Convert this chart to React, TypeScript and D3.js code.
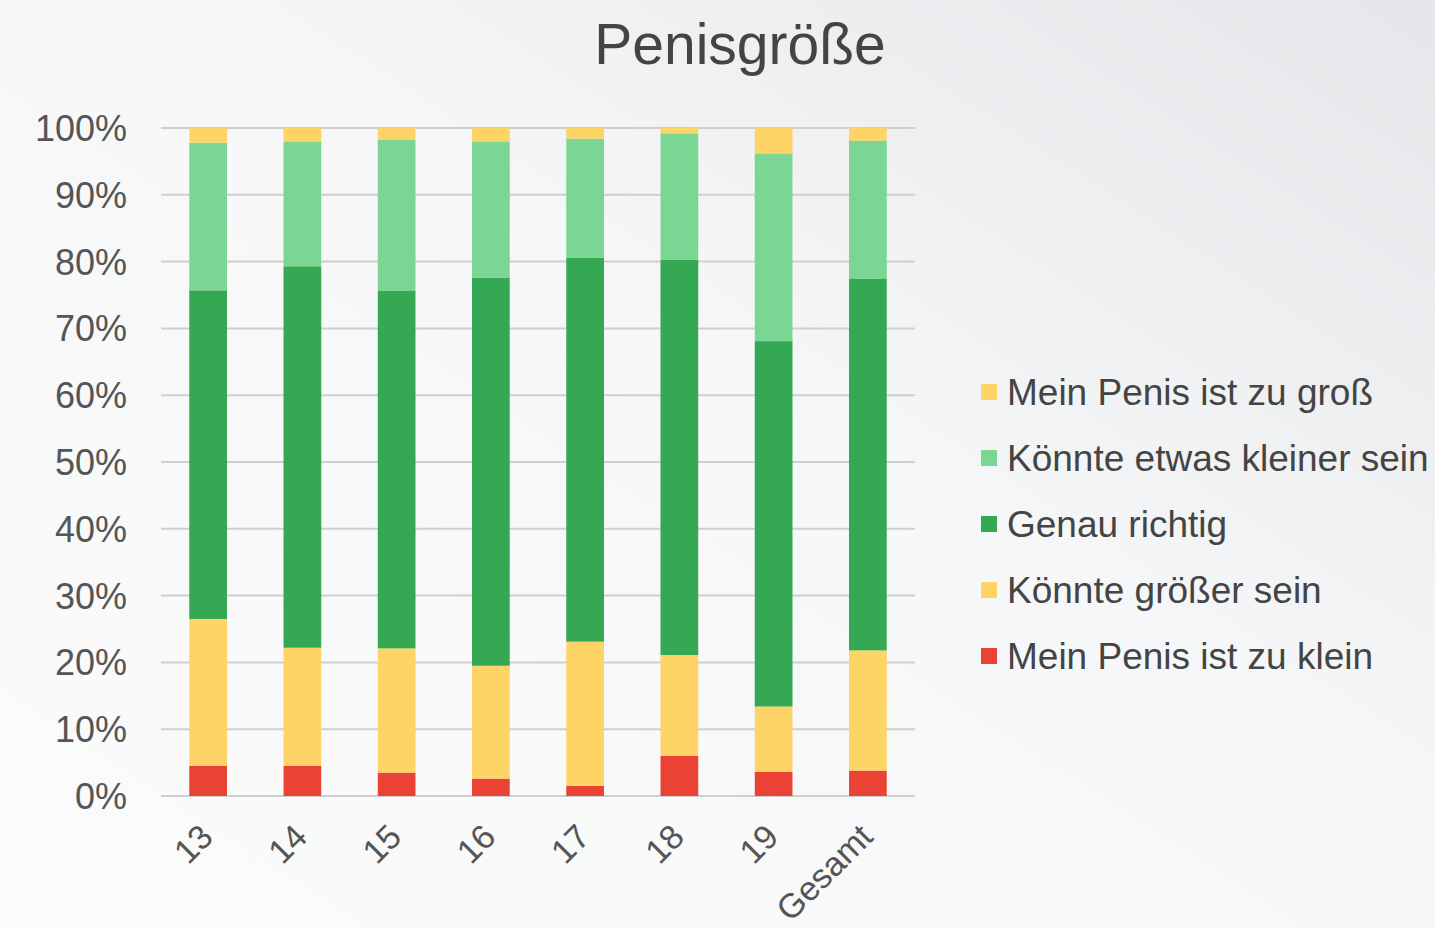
import React from "react";
import * as d3 from "d3";

const categories = ["13", "14", "15", "16", "17", "18", "19", "Gesamt"];
const seriesNames = [
  "Mein Penis ist zu klein",
  "Könnte größer sein",
  "Genau richtig",
  "Könnte etwas kleiner sein",
  "Mein Penis ist zu groß",
];
const zuKlein = [4.5, 4.5, 3.5, 2.6, 1.5, 6.0, 3.6, 3.8];
const groesser = [22.0, 17.7, 18.6, 16.9, 21.6, 15.1, 9.8, 18.0];
const genau = [49.2, 57.1, 53.5, 58.1, 57.5, 59.2, 54.7, 55.6];
const kleiner = [22.1, 18.7, 22.7, 20.4, 17.8, 18.9, 28.1, 20.7];
const zuGross = [2.2, 2.0, 1.7, 2.0, 1.6, 0.8, 3.8, 1.9];
const colors = ["#ea4335", "#fdd465", "#34a853", "#7bd593", "#fdd465"];
const yTicks = [0, 10, 20, 30, 40, 50, 60, 70, 80, 90, 100];
const legendOrder = [4, 3, 2, 1, 0];

export default function App() {
  const W = 1435, H = 928;
  const x = d3.scaleBand().domain(categories).range([161, 915]).paddingInner(0.6).paddingOuter(0.3);
  const y = d3.scaleLinear().domain([0, 100]).range([796, 128]);
  const table = categories.map((c, i) => {
    const vals = [zuKlein[i], groesser[i], genau[i], kleiner[i], zuGross[i]];
    const total = d3.sum(vals);
    const o: any = { cat: c };
    seriesNames.forEach((s, k) => (o[s] = (vals[k] / total) * 100));
    return o;
  });
  const stack = d3.stack().keys(seriesNames)(table as any);
  const font = "'Liberation Sans', Arial, sans-serif";
  return (
    <svg width={W} height={H} style={{ position: "absolute", left: 0, top: 0 }} fontFamily={font}>
      <defs>
        <linearGradient id="bg" x1="1" y1="0" x2="0" y2="1">
          <stop offset="0" stopColor="#e4e6e9" />
          <stop offset="0.45" stopColor="#f6f7f8" />
          <stop offset="1" stopColor="#fbfbfb" />
        </linearGradient>
      </defs>
      <rect width={W} height={H} fill="url(#bg)" />
      <text x={740} y={64} textAnchor="middle" fontSize={57} fill="#444">Penisgröße</text>
      {yTicks.map((t) => (
        <g key={t}>
          <line x1={161} x2={915} y1={y(t)} y2={y(t)} stroke="#cfcfcf" strokeWidth={2} />
          <text x={127} y={y(t) + 13} textAnchor="end" fontSize={36} fill="#555">{t}%</text>
        </g>
      ))}
      {stack.map((layer, k) => (
        <g key={k} fill={colors[k]}>
          {layer.map((d: any, i: number) => (
            <rect key={i} x={x(categories[i])} width={x.bandwidth()} y={y(d[1])} height={y(d[0]) - y(d[1])} />
          ))}
        </g>
      ))}
      {categories.map((c) => {
        const cx = (x(c) as number) + x.bandwidth() / 2 - 10;
        return (
          <text key={c} transform={`translate(${cx},${822}) rotate(-45)`} textAnchor="end" fontSize={34} fill="#555" dy="0.7em">
            {c}
          </text>
        );
      })}
      {legendOrder.map((k, j) => {
        const ly = 392 + j * 66;
        return (
          <g key={k}>
            <rect x={981} y={ly - 8} width={16} height={16} fill={colors[k]} />
            <text x={1007} y={ly + 13} fontSize={37} fill="#444">{seriesNames[k]}</text>
          </g>
        );
      })}
    </svg>
  );
}
